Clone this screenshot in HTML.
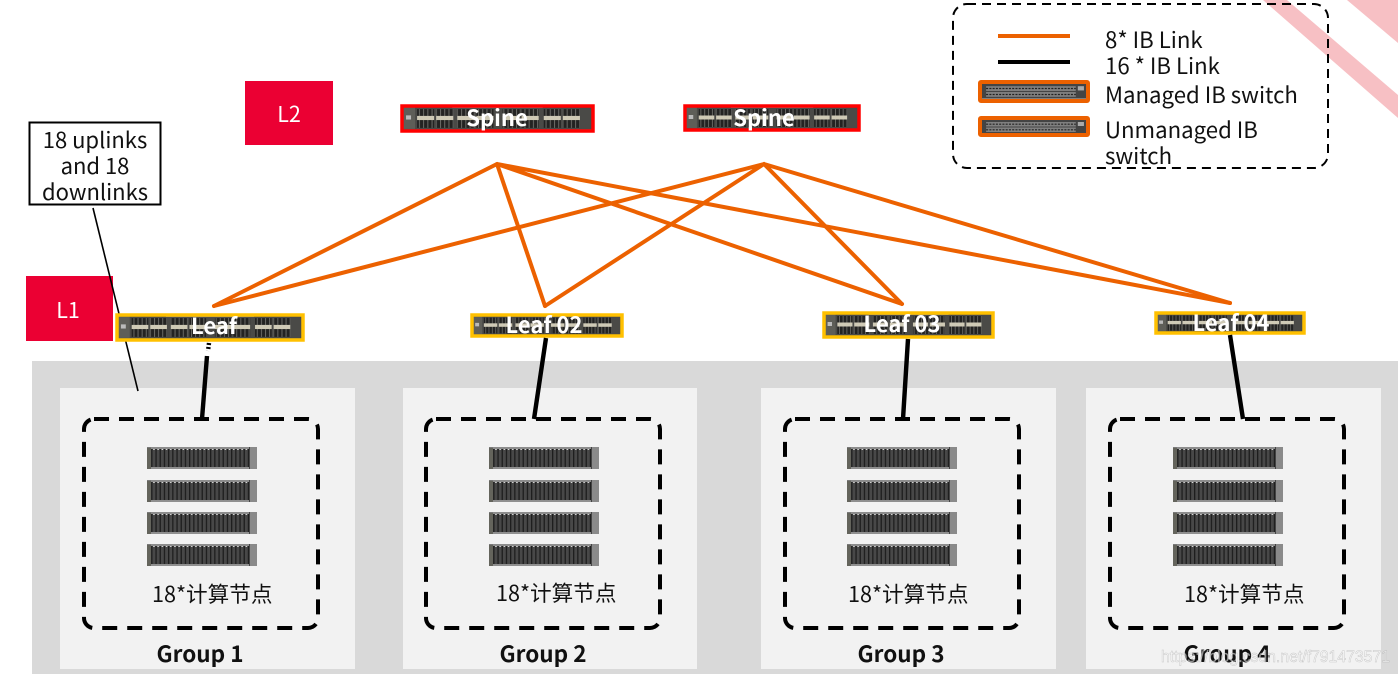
<!DOCTYPE html>
<html lang="zh">
<head>
<meta charset="utf-8">
<title>IB Network Topology</title>
<style>
html,body{margin:0;padding:0;background:#fff;width:1398px;height:674px;overflow:hidden}
svg{display:block}
text{font-family:"Noto Sans CJK SC","Liberation Sans",sans-serif;fill:#111}
.sw{font-weight:700;fill:#fff;font-size:22px;text-anchor:middle}
.gr{font-weight:700;font-size:22.500px;text-anchor:middle}
.n{font-size:21.600px}
.lg{font-size:22.200px}
.cb{font-size:22px;text-anchor:middle}
.tag{font-size:21.500px;fill:#fff;text-anchor:middle}
</style>
</head>
<body>
<svg width="1398" height="674" viewBox="0 0 1398 674" xmlns="http://www.w3.org/2000/svg">
<defs>
<pattern id="ports" x="0" y="0" width="4.200" height="24" patternUnits="userSpaceOnUse">
  <rect width="4.200" height="24" fill="#232322"/>
  <rect x="0" width="1" height="24" fill="#6a6a66"/>
</pattern>
<symbol id="swi" viewBox="0 0 190 24" preserveAspectRatio="none">
  <rect width="190" height="24" fill="#4a4a47"/>
  <rect x="50" y="0" width="90" height="2" fill="#8a8a84"/>
  <rect y="22.500" width="190" height="1.500" fill="#c0c0ba"/>
  <rect x="1" y="1" width="12" height="21" fill="#5e5e58"/>
  <rect x="4" y="9" width="5" height="4" fill="#bbb"/>
  <g fill="url(#ports)">
    <rect x="15" y="3" width="17" height="18"/><rect x="34" y="3" width="17" height="18"/>
    <rect x="55" y="3" width="17" height="18"/><rect x="74" y="3" width="17" height="18"/>
    <rect x="100" y="3" width="17" height="18"/><rect x="119" y="3" width="17" height="18"/>
    <rect x="141" y="3" width="17" height="18"/><rect x="160" y="3" width="17" height="18"/>
  </g>
  <g fill="#cfcab6">
    <rect x="15" y="9.500" width="17" height="4"/><rect x="34" y="9.500" width="17" height="4"/>
    <rect x="55" y="9.500" width="17" height="4"/><rect x="74" y="9.500" width="17" height="4"/>
    <rect x="100" y="9.500" width="17" height="4"/><rect x="119" y="9.500" width="17" height="4"/>
    <rect x="141" y="9.500" width="17" height="4"/><rect x="160" y="9.500" width="17" height="4"/>
  </g>
</symbol>
<symbol id="lgsw" viewBox="0 0 104 16" preserveAspectRatio="none">
  <rect width="104" height="16" fill="#444"/>
  <rect y="14.500" width="104" height="1.500" fill="#aaa"/>
  <rect x="5" y="3" width="88" height="4.500" fill="#808080"/>
  <rect x="5" y="8.500" width="88" height="4.500" fill="#808080"/>
  <path d="M5 5.200H93M5 10.800H93" stroke="#222" stroke-width="1.200" stroke-dasharray="2 1.200"/>
  <rect x="95" y="3" width="6" height="4" fill="#aaa"/>
</symbol>
<pattern id="bays" width="4.200" height="22" patternUnits="userSpaceOnUse">
  <rect width="4.200" height="22" fill="#484848"/>
  <rect x="0" y="0" width="1.300" height="22" fill="#1e1e1e"/>
  <rect x="2" y="0" width="1.500" height="3" fill="#ddd"/>
</pattern>
<symbol id="srv" viewBox="0 0 110 22" preserveAspectRatio="none">
  <rect width="110" height="22" fill="#7a7a7a"/>
  <rect x="0" y="1" width="4" height="21" fill="#64645c"/>
  <rect x="4" y="2" width="98" height="18" fill="url(#bays)"/>
  <rect x="4" y="0" width="100" height="2" fill="#8c8c8c"/>
  <rect x="4" y="20" width="100" height="2" fill="#8f8f8f"/>
  <rect x="103" y="0" width="7" height="22" fill="#8a8a8a"/>
  <rect x="102" y="0" width="1" height="22" fill="#444"/>
</symbol>
</defs>

<!-- corner stripes -->
<polygon points="1263,0 1287,0 1398,95 1398,118" fill="#f7c0c4"/>
<polygon points="1347,0 1398,0 1398,43" fill="#f7c0c4"/>

<!-- backgrounds -->
<rect x="32" y="361" width="1366" height="313" fill="#d9d9d9"/>
<rect x="60" y="388" width="295" height="281" fill="#f2f2f2"/>
<rect x="403" y="388" width="294" height="281" fill="#f2f2f2"/>
<rect x="761" y="388" width="295" height="281" fill="#f2f2f2"/>
<rect x="1086" y="388" width="295" height="281" fill="#f2f2f2"/>

<!-- orange links -->
<g stroke="#ec6100" stroke-width="4" fill="none" stroke-linecap="round">
  <path d="M497 164L214 306M497 164L545 306M497 164L902 304M497 164L1230 303"/>
  <path d="M764 164L214 306M764 164L545 306M764 164L902 304M764 164L1230 303"/>
</g>

<!-- L tags -->
<rect x="245" y="81" width="88" height="64" fill="#eb0033"/>
<text class="tag" x="289" y="122">L2</text>
<rect x="26" y="276" width="87" height="65" fill="#eb0033"/>
<text class="tag" x="68" y="318">L1</text>

<!-- callout -->
<rect x="29.500" y="122.500" width="131" height="82" fill="#fff" stroke="#000" stroke-width="2"/>
<text class="cb" x="95" y="148">18 uplinks</text>
<text class="cb" x="95" y="174">and 18</text>
<text class="cb" x="95" y="200">downlinks</text>
<line x1="93" y1="208" x2="138" y2="391" stroke="#000" stroke-width="1.600"/>

<!-- spines -->
<use href="#swi" x="402" y="106" width="191" height="25"/>
<rect x="402" y="106" width="191" height="25" fill="none" stroke="#f00" stroke-width="3.500"/>
<text class="sw" x="497" y="126">Spine</text>
<use href="#swi" x="685" y="106" width="174" height="24"/>
<rect x="685" y="106" width="174" height="24" fill="none" stroke="#f00" stroke-width="3.500"/>
<text class="sw" x="764" y="126">Spine</text>

<!-- leaves -->
<use href="#swi" x="117" y="315" width="186" height="25"/>
<rect x="117" y="315" width="186" height="25" fill="none" stroke="#ffc000" stroke-width="3.500"/>
<text class="sw" x="214" y="334">Leaf</text>
<use href="#swi" x="472" y="315" width="150" height="21"/>
<rect x="472" y="315" width="150" height="21" fill="none" stroke="#ffc000" stroke-width="3.500"/>
<text class="sw" x="544" y="333">Leaf 02</text>
<use href="#swi" x="824" y="313" width="169" height="24"/>
<rect x="824" y="313" width="169" height="24" fill="none" stroke="#ffc000" stroke-width="3.500"/>
<text class="sw" x="902" y="332">Leaf 03</text>
<use href="#swi" x="1156" y="313" width="148" height="20"/>
<rect x="1156" y="313" width="148" height="20" fill="none" stroke="#ffc000" stroke-width="3.500"/>
<text class="sw" x="1231" y="331">Leaf 04</text>

<!-- black links -->
<g stroke="#000" stroke-width="4.400" fill="none">
  <path d="M209 343L208 351" stroke-dasharray="2 2"/>
  <path d="M207 356L202 419"/>
  <path d="M546 338L534 419"/>
  <path d="M908 339L903 419"/>
  <path d="M1230 335L1243 419"/>
</g>

<!-- dashed groups -->
<g fill="none" stroke="#000" stroke-width="4" stroke-dasharray="15 10">
  <rect x="84" y="419" width="234" height="209" rx="10"/>
  <rect x="426" y="419" width="234" height="209" rx="10"/>
  <rect x="785" y="419" width="234" height="209" rx="10"/>
  <rect x="1110" y="419" width="234" height="209" rx="10"/>
</g>

<!-- servers -->
<g>
  <use href="#srv" x="147" y="447" width="110" height="22"/><use href="#srv" x="147" y="480" width="110" height="22"/><use href="#srv" x="147" y="512" width="110" height="22"/><use href="#srv" x="147" y="544" width="110" height="22"/>
  <use href="#srv" x="489" y="447" width="110" height="22"/><use href="#srv" x="489" y="480" width="110" height="22"/><use href="#srv" x="489" y="512" width="110" height="22"/><use href="#srv" x="489" y="544" width="110" height="22"/>
  <use href="#srv" x="847" y="447" width="110" height="22"/><use href="#srv" x="847" y="480" width="110" height="22"/><use href="#srv" x="847" y="512" width="110" height="22"/><use href="#srv" x="847" y="544" width="110" height="22"/>
  <use href="#srv" x="1173" y="447" width="110" height="22"/><use href="#srv" x="1173" y="480" width="110" height="22"/><use href="#srv" x="1173" y="512" width="110" height="22"/><use href="#srv" x="1173" y="544" width="110" height="22"/>
</g>

<text class="n" x="152" y="602">18*计算节点</text>
<text class="n" x="496" y="601">18*计算节点</text>
<text class="n" x="848" y="602">18*计算节点</text>
<text class="n" x="1184" y="602">18*计算节点</text>

<text class="gr" x="200" y="662">Group 1</text>
<text class="gr" x="543" y="662">Group 2</text>
<text class="gr" x="901" y="662">Group 3</text>
<text class="gr" x="1227" y="662">Group 4</text>

<!-- legend -->
<rect x="953" y="4" width="375" height="164" rx="14" fill="none" stroke="#000" stroke-width="2" stroke-dasharray="9 6"/>
<line x1="998" y1="36" x2="1070" y2="36" stroke="#ec6100" stroke-width="4"/>
<line x1="998" y1="62" x2="1070" y2="62" stroke="#000" stroke-width="4"/>
<use href="#lgsw" x="981" y="83" width="106" height="17"/>
<rect x="980" y="82" width="108" height="19" fill="none" stroke="#ec6100" stroke-width="4" rx="1"/>
<use href="#lgsw" x="981" y="119" width="106" height="16"/>
<rect x="980" y="118" width="108" height="17" fill="none" stroke="#ec6100" stroke-width="4" rx="1"/>
<text class="lg" x="1105" y="48">8* IB Link</text>
<text class="lg" x="1105" y="74">16 * IB Link</text>
<text class="lg" x="1105" y="103">Managed IB switch</text>
<text class="lg" x="1105" y="138">Unmanaged IB</text>
<text class="lg" x="1105" y="164">switch</text>

<!-- watermark -->
<text x="1161" y="662" textLength="229" lengthAdjust="spacingAndGlyphs" style="font-family:'Liberation Sans',sans-serif;fill:#fff;fill-opacity:.55;font-size:17px;stroke:#999;stroke-opacity:.5;stroke-width:.5">https://blog.csdn.net/f791473571</text>
</svg>
</body>
</html>
